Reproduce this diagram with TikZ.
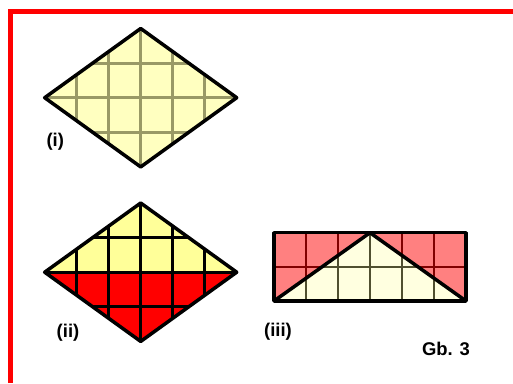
\documentclass[tikz,border=0pt]{standalone}
\usepackage{fontspec}
\setmainfont{Liberation Sans}
\usepackage{tikz}
\definecolor{creamyellow}{RGB}{255,255,192}
\definecolor{lemon}{RGB}{255,255,153}
\definecolor{paleivory}{RGB}{255,255,224}
\definecolor{rosered}{RGB}{255,128,128}
\definecolor{olivegrid}{RGB}{153,153,102}
\definecolor{darkolive}{RGB}{80,80,48}
\definecolor{maroongrid}{RGB}{128,0,0}

\begin{document}
\begin{tikzpicture}[
    x=1bp, y=-1bp,
    frame/.style={draw=red, line width=5.3bp},
    outline/.style={draw=black, line width=3.5bp, line join=round},
    olivelines/.style={draw=olivegrid, line width=3bp},
    blacklines/.style={draw=black, line width=2.8bp},
    maroonlines/.style={draw=maroongrid, line width=2.6bp},
    ivorylines/.style={draw=darkolive, line width=2.6bp},
    figlabel/.style={font=\fontsize{18.5}{22}\selectfont\bfseries, inner sep=0pt}
]
\useasboundingbox (0,0) rectangle (513,383);

% red frame, top and left only
\draw[frame] (10.7,383) |- (513,11.7);

% (i) plain rhombus
\begin{scope}[shift={(140.7,97.7)}, x=32bp, y=34.6bp]
  \fill[creamyellow] (-3,0) -- (0,2) -- (3,0) -- (0,-2) -- cycle;
  \begin{scope}
    \clip (-3,0) -- (0,2) -- (3,0) -- (0,-2) -- cycle;
    \foreach \gx in {-2,...,2}
      \draw[olivelines] (\gx,-2) -- (\gx,2);
    \foreach \gy in {-1,0,1}
      \draw[olivelines] (-3,\gy) -- (3,\gy);
  \end{scope}
  \draw[outline] (-3,0) -- (0,2) -- (3,0) -- (0,-2) -- cycle;
\end{scope}

% (ii) rhombus, lower half shaded
\begin{scope}[shift={(140.7,272.2)}, x=32bp, y=34.6bp]
  \fill[lemon] (-3,0) -- (0,2) -- (3,0) -- cycle;
  \fill[red] (-3,0) -- (0,-2) -- (3,0) -- cycle;
  \begin{scope}
    \clip (-3,0) -- (0,2) -- (3,0) -- (0,-2) -- cycle;
    \foreach \gx in {-2,...,2}
      \draw[blacklines] (\gx,-2) -- (\gx,2);
    \foreach \gy in {-1,0,1}
      \draw[blacklines] (-3,\gy) -- (3,\gy);
  \end{scope}
  \draw[outline] (-3,0) -- (0,2) -- (3,0) -- (0,-2) -- cycle;
\end{scope}

% (iii) rectangle with triangle
\begin{scope}[shift={(274,301)}, x=32bp, y=34.15bp]
  \fill[rosered] (0,0) rectangle (6,2);
  \foreach \gx in {1,...,5}
    \draw[maroonlines] (\gx,0) -- (\gx,2);
  \draw[maroonlines] (0,1) -- (6,1);
  \fill[paleivory] (0,0) -- (3,2) -- (6,0) -- cycle;
  \begin{scope}
    \clip (0,0) -- (3,2) -- (6,0) -- cycle;
    \foreach \gx in {1,...,5}
      \draw[ivorylines] (\gx,0) -- (\gx,2);
    \draw[ivorylines] (0,1) -- (6,1);
  \end{scope}
  \draw[outline] (0,0) rectangle (6,2);
  \draw[outline] (0,0) -- (3,2) -- (6,0);
\end{scope}

\node[figlabel] (lbl-i) at (55.3,141.7) {(i)};
\node[figlabel] (lbl-ii) at (68,332.5) {(ii)};
\node[figlabel] (lbl-iii) at (278,331.7) {(iii)};
\node[figlabel] (caption) at (446,349) {Gb. 3};

\end{tikzpicture}
\end{document}
